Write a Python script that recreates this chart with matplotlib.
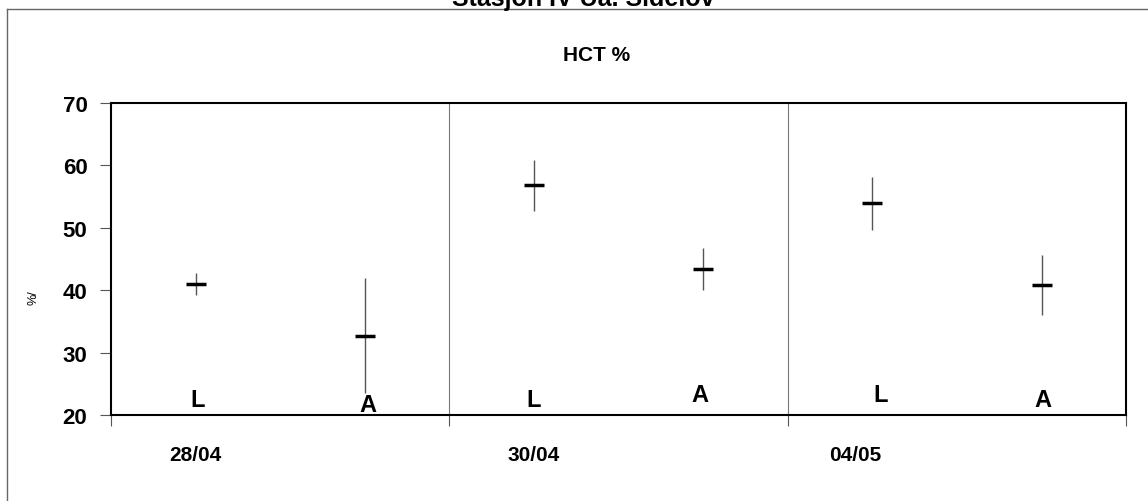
import numpy as np
import matplotlib.pyplot as plt
from matplotlib.lines import Line2D

plt.rcParams['font.family'] = ['Liberation Sans', 'DejaVu Sans']

# HCT values per station visit, L and A groups
xpos = [0.5, 1.5, 2.5, 3.5, 4.5, 5.5]
hct_mean = [41.0, 32.7, 56.8, 43.4, 53.9, 40.8]
hct_err = [1.8, 9.2, 4.1, 3.4, 4.2, 4.8]
group_labels = ['L', 'A', 'L', 'A', 'L', 'A']
group_label_x = [0.51, 1.52, 2.5, 3.48, 4.55, 5.51]
group_label_y = [20.6, 19.8, 20.6, 21.4, 21.4, 20.6]
dates = ['28/04', '30/04', '04/05']
date_x = [0.5, 2.5, 4.4]

fig = plt.figure(figsize=(11.48, 5.02), dpi=100)
ax = fig.add_axes([0.0967, 0.1713, 0.8843, 0.6215])

ax.errorbar(xpos, hct_mean, yerr=hct_err, fmt='none', ecolor='#555555',
            elinewidth=1, capsize=0)
ax.plot(xpos, hct_mean, linestyle='none', marker='_', markersize=14,
        markeredgewidth=2.5, color='black')

for x in [2, 4]:
    ax.axvline(x, color='#777777', lw=0.8)

for lab, x, y in zip(group_labels, group_label_x, group_label_y):
    ax.text(x, y, lab, ha='center', va='bottom', fontsize=17,
            fontweight='bold', clip_on=False)

for d, x in zip(dates, date_x):
    ax.text(x, -0.125, d, ha='center', va='center', fontsize=15,
            fontweight='bold', transform=ax.get_xaxis_transform())

ax.set_xlim(0, 6)
ax.set_ylim(20, 70)
ax.set_yticks([20, 30, 40, 50, 60, 70])
ax.set_xticks([0, 2, 4, 6])
ax.set_xticklabels([])
ax.tick_params(axis='both', direction='out', length=8, width=0.8,
               color='#555555')
ax.tick_params(axis='y', labelsize=16, pad=9)
for lab in ax.get_yticklabels():
    lab.set_fontweight('bold')
for s in ax.spines.values():
    s.set_linewidth(1.5)
    s.set_color('black')

fig.text(0.52, 0.890, 'HCT %', ha='center', va='center', fontsize=15,
         fontweight='bold')
fig.text(0.508, 0.988, 'Stasjon IV Ua. Sidelov', ha='center', va='baseline',
         fontsize=18, fontweight='bold')
fig.text(0.029, 0.408, '%/', rotation=90, ha='center', va='center',
         fontsize=9)

# outer chart frame (only top and left edges fall inside the picture)
fig.add_artist(Line2D([0.0061, 1.0], [0.980, 0.980], color='#666666', lw=1))
fig.add_artist(Line2D([0.0061, 0.0061], [0.0, 0.980], color='#666666', lw=1))

fig.savefig('out.png', dpi=100)
